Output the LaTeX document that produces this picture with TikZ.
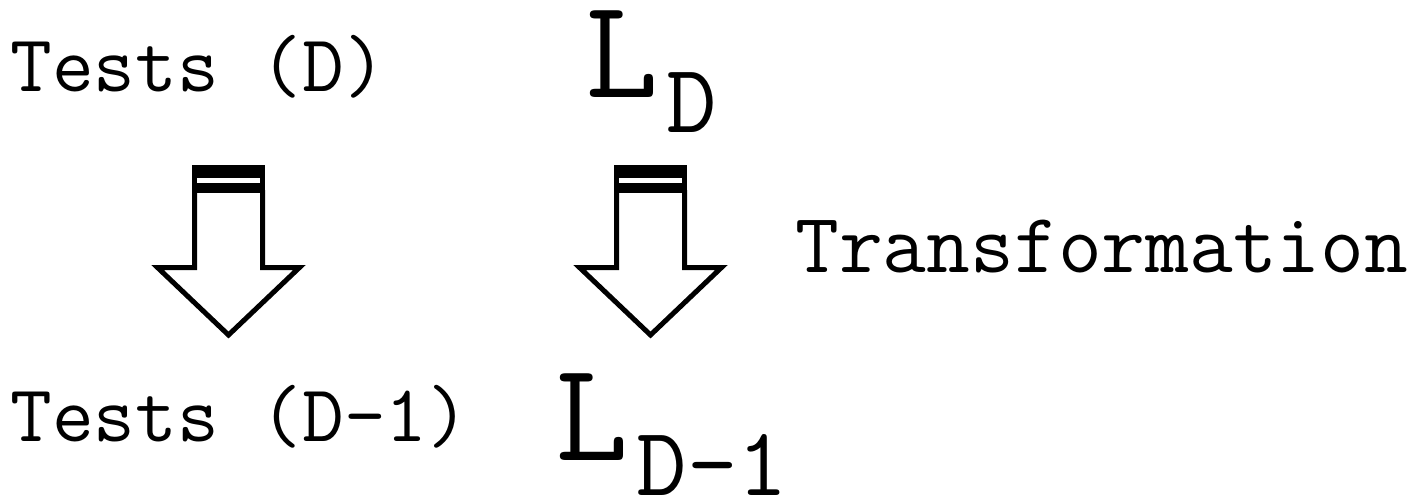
\documentclass[tikz,border=0pt]{standalone}
\usepackage{fontspec}
\usepackage{tikz}

% big letter with a dropped index
\newcommand{\bigL}{{\fontsize{71}{71}\selectfont L}}
\newcommand{\lowidx}[1]{\hspace{4pt}\raisebox{-17.5pt}{\fontsize{49}{49}\selectfont #1}}

\tikzset{txt/.style={font=\ttfamily\fontsize{40.5}{40.5}\selectfont, inner sep=0, anchor=base west}}
\tikzset{bigtxt/.style={font=\ttfamily, inner sep=0, anchor=base west}}

\begin{document}
\begin{tikzpicture}[x=0.5pt,y=-0.5pt]
\useasboundingbox (0,0) rectangle (1414,498);

\node[txt] (testsD) at (10,91) {Tests (D)};
\node[txt] (testsDm) at (10,441) {Tests (D-1)};
\node[bigtxt] (LD) at (585,97) {\bigL\lowidx{D}};
\node[bigtxt] (LDm) at (555,460) {\bigL\lowidx{D-1}};
\node[txt, font=\ttfamily\fontsize{42.5}{42.5}\selectfont] (trans) at (795,272) {Transformation};

% hollow block arrows with the double bar on top
\foreach \c in {228.5,650.5} {
 \draw[line width=2.5pt] (\c-34,190) -- (\c-34,267.5) -- (\c-71,267.5) -- (\c,335)
   -- (\c+71,267.5) -- (\c+34,267.5) -- (\c+34,190);
 \fill (\c-36.5,165) rectangle (\c+36.5,193);
 \fill[white] (\c-31.5,178) rectangle (\c+31.5,182.5);
}
\end{tikzpicture}
\end{document}
